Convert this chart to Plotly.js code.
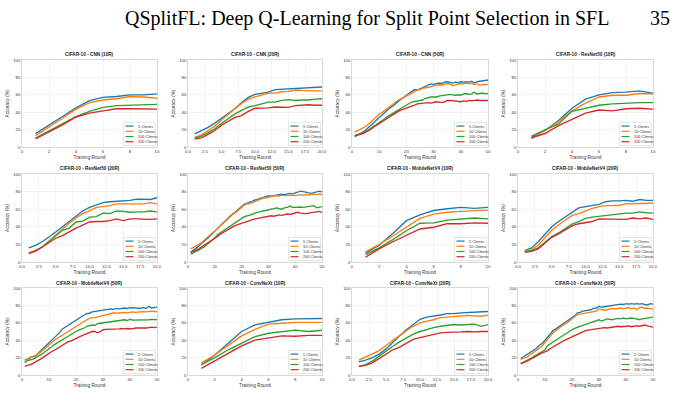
<!DOCTYPE html>
<html><head><meta charset="utf-8">
<script src="https://cdn.plot.ly/plotly-3.0.1.min.js"></script>
<style>html,body{margin:0;padding:0;background:#fff;}#chart{width:682px;height:413px;}</style>
</head><body><div id="chart"></div>
<script>
// ---------- DATA ----------
const seriesNames = ['5 Clients','10 Clients','100 Clients','200 Clients'];
const rounds10 = [1,2,3,4,5,6,7,8,9,10];
const rounds20 = [1,2,3,4,5,6,7,8,9,10,11,12,13,14,15,16,17,18,19,20];
const rounds50 = [1,2,3,4,5,6,7,8,9,10,11,12,13,14,15,16,17,18,19,20,21,22,23,24,25,26,27,28,29,30,31,32,33,34,35,36,37,38,39,40,41,42,43,44,45,46,47,48,49,50];
const xticks10 = [0,2,4,6,8,10];
const xticks20 = [0,2.5,5,7.5,10,12.5,15,17.5,20];
const xticks20Text = ['0.0','2.5','5.0','7.5','10.0','12.5','15.0','17.5','20.0'];
const xticks50 = [0,10,20,30,40,50];
const yticks = [0,20,40,60,80,100];
const panelTitles = ['CIFAR-10 - CNN (10R)','CIFAR-10 - CNN (20R)','CIFAR-10 - CNN (50R)','CIFAR-10 - ResNet50 (10R)',
  'CIFAR-10 - ResNet50 (20R)','CIFAR-10 - ResNet50 (50R)','CIFAR-10 - MobileNetV4 (10R)','CIFAR-10 - MobileNetV4 (20R)',
  'CIFAR-10 - MobileNetV4 (50R)','CIFAR-10 - ConvNeXt (10R)','CIFAR-10 - ConvNeXt (20R)','CIFAR-10 - ConvNeXt (50R)'];

const cnn10_c5   = [15.3,24.8,35,45,53.4,57,58,60,60,61];
const cnn10_c10  = [13,22.5,33,43.5,51,54,55.5,58,57.5,56];
const cnn10_c100 = [10.3,18.7,27,35,41,45.5,47.5,48,48,49];
const cnn10_c200 = [9.2,17,25.5,34.5,39,41.5,44,44,44,43.5];

const cnn20_c5   = [15,19,22.5,27.5,33,39,44,51,57,60.5,62,63,66,66.5,67,67.5,68,68,68.5,69];
const cnn20_c10  = [11,14,19,24,31,38,44,50,55,57.5,60,62,62,63.5,64,65.5,65,64.5,64.5,64.5];
const cnn20_c100 = [10,12.5,16.5,21,27,33,38,42,46,47.5,49.5,51.5,51.5,53.5,54.5,53.5,54,54,55,55.5];
const cnn20_c200 = [9,10.5,14.5,19,25,30,34,36,41,44.5,44.5,45,46,45.5,45.5,47.5,48,48.5,48,48];

const cnn50_c5   = [12,13.5,15,17,19.5,22,25,28,31,34,37,39,42,45,47,50,53,55,57,59,61,63,66,65.5,67,68.5,70,71,72.5,72,72.5,73.5,73,74.5,75,74,73.5,74.5,74,75,74.5,75,74.5,75.5,73.5,75,75.5,76,76.5,77];
const cnn50_c10  = [17,18.5,20,22,23.5,26,29,32,35,38,39.5,42,44,47,49,51,54,55,57,58.5,61,62,64,65.5,66,67.5,68,68.5,69,70.5,71,71.5,71,72,73,72.5,70.5,71.5,72,73,72.5,73.5,73,73,72,72.5,71,72,71.5,72];
const cnn50_c100 = [13,14,15,16.5,17.5,19.5,21.5,24,26,28,30,32.5,35,37,39,41,43,45,47,48.5,50,51.5,52,53,53,54,56,57,57.5,57.5,57.5,58.5,59,59.5,60,60.5,60,59.5,60,59.5,61,61.5,60.5,61,63,61,61.5,62,61,61.5];
const cnn50_c200 = [13,13.5,14.5,15.5,17,18.5,20.5,23,25,27,29,31,33.5,36,37.5,39,41,42.5,43.5,44.5,46,47,48,49.5,50,50,50.5,51,50.5,51.5,52,51.5,51,52,53.5,53.5,53,53,52.5,52,53,52.5,53.5,53,53.5,54,53.5,53.5,54,53.5];

const res10_c5   = [11,19,30.5,44.5,55,60,62.5,63,64.5,62];
const res10_c10  = [9.5,19,29,41.5,50.5,57.5,59.5,59.5,61.5,61];
const res10_c100 = [12.5,19.5,26.5,41,44.5,48,49.5,50.5,51,51];
const res10_c200 = [10.5,15.5,24.5,32,39,42.5,41.5,44,44.5,43.5];

const res20_c5   = [16,19,23,28,34,40,46,52,58,62,65,67.5,68.5,69,69.5,70,71.5,71.5,71,73];
const res20_c10  = [9.5,12,17,24,31,38,44,50,55,58,62,63,64,66,66,66,65.5,66,67.5,66];
const res20_c100 = [10,13,17,23,29,36,38.5,45.5,46.5,51,51.5,55.5,55,58,57.5,56.5,57,57,58,57];
const res20_c200 = [10,12.5,17,22,27,30,34.5,38.5,42,45.5,46,46,47,49,47,49,49,48.5,48.5,49];

const res50_c5   = [11,13,15,18,21,23,26,29,32,36,39,42,45,47,50,53,55,58,61,63,65.5,67,68,69,70.5,71,72.5,73,74.5,75,75,75.5,76,76.5,77,76.5,77,78,77.5,78.5,79.5,80.5,80,79,78.5,78,79,80,80.5,79.5];
const res50_c10  = [15,16.5,18.5,20,22,25,28,30.5,33,35,38,41,44,47,49,52,55,57,60,62,64.5,66,66.5,68,69,70,71.5,72.5,73,73.5,74,74.5,75.5,75,76,75.5,76,75.5,76,75.5,76,76.5,76,76.5,76,77,77,76.5,77.5,76];
const res50_c100 = [9,11,12,13.5,15,17,19.5,22,25,27.5,31,33,35,37.5,39,42,43.5,46,48,50,51.5,52.5,53,54,55.5,56.5,57,58,58.5,59.5,60,60.5,61.5,60.5,60,61.5,62,63.5,62,62,62.5,62.5,62,62.5,62.5,63,64,61.5,62.5,63];
const res50_c200 = [11,12,13.5,15,17,19,21,23,24.5,26,29,31.5,33.5,35.5,37,38.5,40.5,42,43,44,45.5,46.5,47.5,48.5,49,49.5,50,50.5,51.5,52,52.5,52,52.5,53.5,53,53.5,54.5,54,55,55.5,56.5,55.5,55,55,55.5,56,56,57,57.5,56];

const mbn10_c5   = [10,19,32.5,47,53.5,58.5,60.5,62,61,62];
const mbn10_c10  = [11.5,20,29.5,40,49.5,54.5,56.5,57.5,58,59];
const mbn10_c100 = [8.5,16,25.5,35.5,44,44.5,47.5,48.5,50,49];
const mbn10_c200 = [5.5,15,23,30.5,37.5,39.5,43.5,43.5,44.5,44];

const mbn20_c5   = [13,16,23,31,40,46,51,56,61.5,63,64.5,65.5,68.5,69.5,69.5,70,69,71,70,70];
const mbn20_c10  = [13,14,19,27,36,42,47,53,55,58,61,63,64,64,64.5,66,66.5,66.5,66.5,67];
const mbn20_c100 = [12,13,16,22,29,33,38,43,46,49.5,51,52,53,54,55,55.5,55.5,57,56,55.5];
const mbn20_c200 = [11,12,15,22,28,32,37,41,43.5,44.5,46,49,49,49,49,48.5,50,49,50,48.5];

const mbn50_c5   = [17,18.5,20.5,21.5,22,25,28,31,33,36.5,40,43,46,49,53,55,58,60,62,64,65.5,67,69,70.5,71,72.5,73,74,74.5,75,75.5,75.5,76,75.5,76.5,76,76.5,77,76.5,77.5,77,77.5,76.5,77,77.5,76.5,79,77,77.5,78];
const mbn50_c10  = [17,18.5,19.5,21,22,24,26.5,29,32,35,38,40,42,44,46.5,48.5,50.5,52,54,55.5,57.5,60,62,63.5,65,66,66,67,68,68.5,69,70,71,71.5,71,71.5,71.5,72,71.5,72,72.5,72,72.5,73,73,72.5,73,73.5,73,73];
const mbn50_c100 = [14,16.5,17.5,18,20,21.5,23.5,25.5,27.5,30,32.5,35,37,38.5,40.5,42.5,44.5,46,48,50,51.5,52.5,54,56,57,57.5,57,59,59.5,60,60.5,61,61.5,62,62.5,62.5,63,63.5,62.5,64,63,63,63.5,63,63.5,63.5,63.5,64,63.5,63.5];
const mbn50_c200 = [10,11,11.5,13,15,16.5,18.5,20.5,23,25,27,28.5,30.5,32.5,34,36,38,39,40.5,42.5,43.5,45,46.5,47.5,49,50,50,48.5,50,52,52.5,52.5,53,53,53,53,53.5,53,53.5,53.5,53,54,54,53.5,54,54,54.5,55,54.5,55];

const cnx10_c5   = [11.5,23,36.5,50,57.7,61,63.5,64.5,65,65];
const cnx10_c10  = [14,23,34,45,52.5,58.5,59.5,60.5,60.5,60.5];
const cnx10_c100 = [12,20,29,36.5,44,48,50,51.5,50,51.5];
const cnx10_c200 = [7.7,16,25,33.5,40,42.5,45,44.5,45.5,45.5];

const cnx20_c5   = [15,17,20,24,30,38,45,52,58,64,66.5,67.5,69,70.5,70.5,71.5,72,72,72.5,73];
const cnx20_c10  = [17,20.5,24,28,34,40,46,51,56,60,62,63.5,66,66.5,67.5,68,68.5,68,67.5,69];
const cnx20_c100 = [10,12,16,22,28,33,38,43,47,50,52.5,54.5,56,57,58,57.5,58,58.5,56,58];
const cnx20_c200 = [10,11,14,19,23,29,32,37,41,43,45,47,48.5,49,49,49.5,50,49.5,50,50];

const cnx50_c5   = [19,21,22.5,24,26.5,28,31,34.5,36.5,40,44,47,51,53,55,57,59,61,63,66,68,71.5,72,73.5,74,74.5,75,76.5,77,79,78,78.5,79,79.5,80,80.5,81,81.5,81,82,81.5,82,81.5,82,81.5,82,81,80.5,82,81.5];
const cnx50_c10  = [18,19.5,20,22,24,26.5,29,31,34,38,42,45,48.5,51,53.5,56,58,59.5,62,64.5,66,69.5,70,70.5,71,71.5,72.5,73,73.5,76,75.5,74.5,75,75.5,76.5,76,76.5,77,76,77,77.5,76,77,75,77.5,78,76.5,77,76,76];
const cnx50_c100 = [13,14.5,16.5,18,19.5,21.5,23.5,25,27,29,34,36,38,40.5,42.5,45,47,48.5,50.5,52,53.5,55,56,57,58,59,60,61,62,63.5,62,63,64.5,64,63.5,64.5,65,64.5,65.5,64.5,65,65.5,65,64.5,63.5,64.5,65,65.5,66,66.5];
const cnx50_c200 = [13,14,15.5,17,19,20.5,22.5,24,25.5,26.5,28,30.5,32.5,34.5,36,37.5,39.5,41,42.5,44,45.5,47,48.5,49.5,51,51.5,52,52.5,52.5,53,53.5,54.5,54,54.5,55,55.5,56,55.5,55.5,56,56.5,55.5,56,56.5,56,57,57.5,56.5,55.5,55];

// ---------- BUILD ----------
const colors = ['#1f77b4','#ff7f0e','#2ca02c','#d62728'];
const panels = [
  {x:rounds10, ys:[cnn10_c5,cnn10_c10,cnn10_c100,cnn10_c200], xmax:10, tv:xticks10},
  {x:rounds20, ys:[cnn20_c5,cnn20_c10,cnn20_c100,cnn20_c200], xmax:20, tv:xticks20, tt:xticks20Text},
  {x:rounds50, ys:[cnn50_c5,cnn50_c10,cnn50_c100,cnn50_c200], xmax:50, tv:xticks50},
  {x:rounds10, ys:[res10_c5,res10_c10,res10_c100,res10_c200], xmax:10, tv:xticks10},
  {x:rounds20, ys:[res20_c5,res20_c10,res20_c100,res20_c200], xmax:20, tv:xticks20, tt:xticks20Text},
  {x:rounds50, ys:[res50_c5,res50_c10,res50_c100,res50_c200], xmax:50, tv:xticks50},
  {x:rounds10, ys:[mbn10_c5,mbn10_c10,mbn10_c100,mbn10_c200], xmax:10, tv:xticks10},
  {x:rounds20, ys:[mbn20_c5,mbn20_c10,mbn20_c100,mbn20_c200], xmax:20, tv:xticks20, tt:xticks20Text},
  {x:rounds50, ys:[mbn50_c5,mbn50_c10,mbn50_c100,mbn50_c200], xmax:50, tv:xticks50},
  {x:rounds10, ys:[cnx10_c5,cnx10_c10,cnx10_c100,cnx10_c200], xmax:10, tv:xticks10},
  {x:rounds20, ys:[cnx20_c5,cnx20_c10,cnx20_c100,cnx20_c200], xmax:20, tv:xticks20, tt:xticks20Text},
  {x:rounds50, ys:[cnx50_c5,cnx50_c10,cnx50_c100,cnx50_c200], xmax:50, tv:xticks50}
];
const W = 682, H = 413;
const colX = [[22,157],[188,322],[352,488],[518,653]];
const rowY = [[60,147],[174,262],[288,375]];
const FONT = 'Liberation Sans, Arial, sans-serif';
const traces = [];
const layout = {
  width: W, height: H, margin: {l:0,r:0,t:0,b:0},
  paper_bgcolor: '#fff', plot_bgcolor: '#fff', showlegend: false,
  annotations: [], shapes: []
};
layout.annotations.push({xref:'paper', yref:'paper', x:611/W, y:1-18/H, xanchor:'right', yanchor:'middle',
  text:'QSplitFL: Deep Q-Learning for Split Point Selection in SFL', showarrow:false,
  font:{family:'Liberation Serif, serif', size:20, color:'#000'}});
layout.annotations.push({xref:'paper', yref:'paper', x:672/W, y:1-18/H, xanchor:'right', yanchor:'middle',
  text:'35', showarrow:false, font:{family:'Liberation Serif, serif', size:20, color:'#000'}});

panels.forEach((p, i) => {
  const r = Math.floor(i/4), c = i % 4;
  const s = i === 0 ? '' : String(i+1);
  const pw = colX[c][1]-colX[c][0], ph = rowY[r][1]-rowY[r][0];
  layout['xaxis'+s] = {
    domain:[colX[c][0]/W, colX[c][1]/W], anchor:'y'+s, range:[0,p.xmax],
    tickvals:p.tv, ticktext:p.tt || p.tv.map(String), ticks:'', showline:true, mirror:true,
    linecolor:'#cfcfcf', linewidth:0.8, gridcolor:'#ebebeb', gridwidth:0.6, zeroline:false,
    tickfont:{family:FONT, size:4.3, color:'#333'},
    title:{text:'Training Round', font:{family:FONT, size:4.7, color:'#333'}, standoff:2}
  };
  layout['yaxis'+s] = {
    domain:[1-rowY[r][1]/H, 1-rowY[r][0]/H], anchor:'x'+s, range:[0,100],
    tickvals:yticks, ticks:'', showline:true, mirror:true,
    linecolor:'#cfcfcf', linewidth:0.8, gridcolor:'#ebebeb', gridwidth:0.6, zeroline:false,
    tickfont:{family:FONT, size:4.3, color:'#333'},
    title:{text:'Accuracy (%)', font:{family:FONT, size:4.7, color:'#333'}, standoff:3}
  };
  p.ys.forEach((y, k) => traces.push({
    x:p.x, y:y, xaxis:'x'+s, yaxis:'y'+s, type:'scatter', mode:'lines', name:seriesNames[k],
    line:{color:colors[k], width:1.35}, hoverinfo:'skip'
  }));
  // title
  layout.annotations.push({xref:'x'+s+' domain', yref:'y'+s+' domain', x:0.5, y:1, xanchor:'center', yanchor:'bottom',
    yshift:0.5, text:'<b>'+panelTitles[i]+'</b>', showarrow:false, font:{family:FONT, size:4.7, color:'#222'}});
  // legend box
  const bw = 32, bh = 23, right = pw-1.5, bottom = 1.5;
  const x0 = (right-bw)/pw, x1 = right/pw, y0 = bottom/ph, y1 = (bottom+bh)/ph;
  layout.shapes.push({type:'rect', xref:'x'+s+' domain', yref:'y'+s+' domain', x0:x0, x1:x1, y0:y0, y1:y1,
    fillcolor:'rgba(255,255,255,0.85)', line:{color:'#d5d5d5', width:0.6}});
  seriesNames.forEach((nm, k) => {
    const yc = (bottom + bh - 3.6 - 5.2*k)/ph;
    layout.shapes.push({type:'line', xref:'x'+s+' domain', yref:'y'+s+' domain',
      x0:(right-bw+2)/pw, x1:(right-bw+10)/pw, y0:yc, y1:yc, line:{color:colors[k], width:1.2}});
    layout.annotations.push({xref:'x'+s+' domain', yref:'y'+s+' domain', x:(right-bw+12)/pw, y:yc,
      xanchor:'left', yanchor:'middle', text:nm, showarrow:false, font:{family:FONT, size:3.9, color:'#333'}});
  });
});

Plotly.newPlot('chart', traces, layout, {staticPlot:true, displayModeBar:false});
</script></body></html>
